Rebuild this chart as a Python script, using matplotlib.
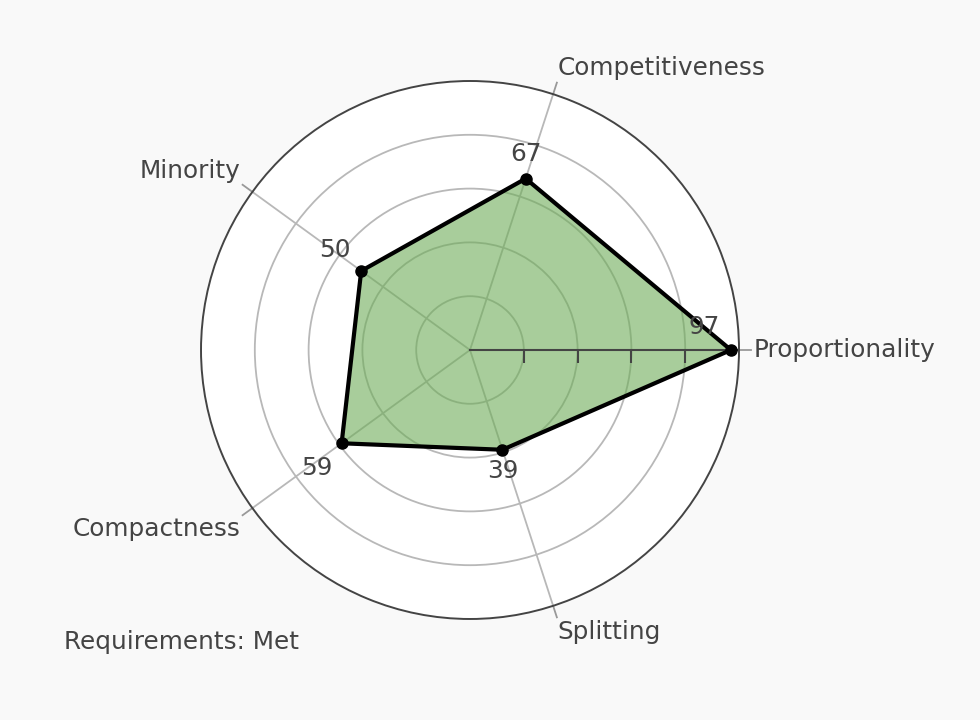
import numpy as np
import matplotlib.pyplot as plt

# dados do gráfico
categorias = ['Proportionality', 'Competitiveness', 'Minority', 'Compactness', 'Splitting']
valores = [97, 67, 50, 59, 39]
grade_r = [20, 40, 60, 80]
texto_req = 'Requirements: Met'

angulos = np.deg2rad(np.arange(len(categorias)) * 72)

fig = plt.figure(figsize=(9.8, 7.2), dpi=100, facecolor='#f9f9f9')
ax = fig.add_axes([0.2051, 0.1403, 0.549, 0.7472], projection='polar')
ax.set_facecolor('white')
ax.set_ylim(0, 100)
ax.set_axisbelow(True)

# grade
ax.set_rgrids(grade_r, labels=[''] * len(grade_r))
ax.set_thetagrids(np.rad2deg(angulos), labels=[''] * len(categorias))
ax.grid(True, color='#b8b8b8', linewidth=1.3)
ax.tick_params(axis='x', length=0)
ax.spines['polar'].set_color('#444444')
ax.spines['polar'].set_linewidth(1.4)

# eixo radial com ticks
ax.plot([0, 0], [0, 100], color='#444444', linewidth=1.5, zorder=4)
ax.plot([0] * len(grade_r), grade_r, linestyle='none', marker=3, markersize=9,
        markeredgewidth=1.5, color='#444444', zorder=4)

# ticks angulares para fora
for a in angulos:
    ax.plot([a, a], [100, 104.5], color='#999999', linewidth=1.3, clip_on=False)

# rótulos das categorias
alinh = [('left', 'center'), ('left', 'bottom'), ('right', 'bottom'),
         ('right', 'top'), ('left', 'top')]
for a, nome, (ha, va) in zip(angulos, categorias, alinh):
    ax.text(a, 105.5, nome, ha=ha, va=va, fontsize=17.8, color='#444444')

# dados
th = np.append(angulos, angulos[0])
vs = valores + [valores[0]]
ax.fill(th, vs, color=(110 / 255, 173 / 255, 88 / 255), alpha=0.6, zorder=2)
ax.plot(th, vs, color='black', linewidth=3, zorder=5)
ax.plot(angulos, valores, 'o', color='black', markersize=8, zorder=6)

offsets = [(-27, 23), (0, 25), (-26, 21), (-25, -25), (0, -21)]
for a, v, off in zip(angulos, valores, offsets):
    ax.annotate(str(v), (a, v), xytext=off, textcoords='offset pixels',
                ha='center', va='center', fontsize=17.8, color='#444444', zorder=7)

fig.text(64 / 980, 1 - 642 / 720, texto_req, ha='left', va='center',
         fontsize=17.8, color='#444444')

fig.savefig('out.png', dpi=100, facecolor=fig.get_facecolor())
